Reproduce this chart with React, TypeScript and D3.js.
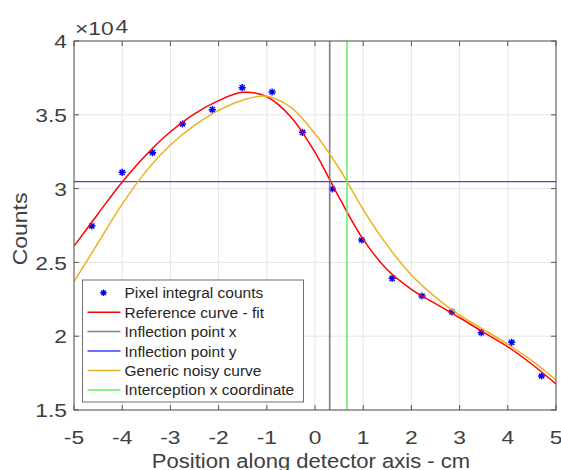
import React from "react";
import * as d3 from "d3";

const W = 561;
const H = 470;

const xTicks = [-5, -4, -3, -2, -1, 0, 1, 2, 3, 4, 5];
const xTickLabels = ["-5", "-4", "-3", "-2", "-1", "0", "1", "2", "3", "4", "5"];
const yTicks = [15000, 20000, 25000, 30000, 35000, 40000];
const yTickLabels = ["1.5", "2", "2.5", "3", "3.5", "4"];

const pointX = [-4.63, -4.0, -3.37, -2.75, -2.13, -1.51, -0.89, -0.26, 0.36, 0.97, 1.6, 2.22, 2.84, 3.45, 4.08, 4.7];
const pointY = [27466, 31104, 32432, 34377, 35346, 36836, 36545, 33814, 29973, 26518, 23923, 22724, 21640, 20237, 19587, 17304];

const fitX = [-5, -4.5, -4, -3.5, -3, -2.5, -2, -1.5, -1, -0.5, 0, 0.5, 1, 1.5, 2, 2.5, 3, 3.5, 4, 4.5, 5];
const fitY = [26100, 28300, 30450, 32300, 33850, 35070, 35960, 36520, 36220, 34850, 32450, 29400, 26560, 24500, 23180, 22200, 21250, 20260, 19280, 18100, 16762];

const noisyX = [-5, -4.5, -4, -3.5, -3, -2.5, -2, -1.5, -1, -0.5, 0, 0.5, 1, 1.5, 2, 2.5, 3, 3.5, 4, 4.5, 5];
const noisyY = [23700, 26330, 28950, 31200, 32950, 34280, 35300, 35990, 36260, 35500, 33720, 31380, 28580, 26150, 24150, 22650, 21420, 20450, 19450, 18340, 17030];

const inflectionX = 0.305;
const inflectionY = 30470;
const interceptX = 0.665;

const legendLabels = [
  "Pixel integral counts",
  "Reference curve - fit",
  "Inflection point x",
  "Inflection point y",
  "Generic noisy curve",
  "Interception x coordinate",
];
const legendColors = ["#0000ff", "#ff0000", "#808080", "#4040ff", "#EDB120", "#5ef05e"];

const FONT = "'Liberation Sans', Arial, Helvetica, sans-serif";
const TXT = "#404040";
const SX = 1.2;

function asterisk(r: number) {
  const d = r * 0.72;
  return `M${-r},0H${r}M0,${-r}V${r}M${-d},${-d}L${d},${d}M${-d},${d}L${d},${-d}`;
}

export default function App() {
  const left = 74, right = 556, top = 41, bottom = 410;
  const x = d3.scaleLinear().domain([-5, 5]).range([left, right]);
  const y = d3.scaleLinear().domain([15000, 40000]).range([bottom, top]);

  const fitLine = d3
    .line<number>()
    .x((_, i) => x(fitX[i]))
    .y((v) => y(v))
    .curve(d3.curveCatmullRom.alpha(0.5))(fitY) as string;
  const noisyLine = d3
    .line<number>()
    .x((_, i) => x(noisyX[i]))
    .y((v) => y(v))
    .curve(d3.curveCatmullRom.alpha(0.5))(noisyY) as string;

  const legX = 82.5, legY = 280, legW = 221, legH = 122;
  const rowY = (i: number) => 292.7 + i * 19.45;

  return (
    <svg
      width={W}
      height={H}
      style={{ position: "fixed", left: 0, top: 0, background: "#fff" }}
      fontFamily={FONT}
    >
      <rect x={0} y={0} width={W} height={H} fill="#fff" />
      <defs>
        <clipPath id="plotclip">
          <rect x={left} y={top} width={right - left} height={bottom - top} />
        </clipPath>
      </defs>
      {xTicks.map((t) => (
        <line key={"gx" + t} x1={x(t)} x2={x(t)} y1={top} y2={bottom} stroke="#e5e5e5" strokeWidth={1} />
      ))}
      {yTicks.map((t) => (
        <line key={"gy" + t} x1={left} x2={right} y1={y(t)} y2={y(t)} stroke="#e5e5e5" strokeWidth={1} />
      ))}
      <g clipPath="url(#plotclip)">
        {pointX.map((px, i) => (
          <path
            key={"p" + i}
            d={asterisk(3.6)}
            transform={`translate(${x(px)},${y(pointY[i])})`}
            stroke="#0000ff"
            strokeWidth={1.4}
            fill="none"
          />
        ))}
        <path d={fitLine} fill="none" stroke="#ff0000" strokeWidth={1.5} />
        <line x1={x(inflectionX)} x2={x(inflectionX)} y1={top} y2={bottom} stroke="#808080" strokeWidth={1.6} />
        <line x1={left} x2={right} y1={y(inflectionY)} y2={y(inflectionY)} stroke="#4040ff" strokeWidth={1.4} />
        <path d={noisyLine} fill="none" stroke="#EDB120" strokeWidth={1.5} />
        <line x1={x(interceptX)} x2={x(interceptX)} y1={top} y2={bottom} stroke="#5ef05e" strokeWidth={1.5} />
      </g>
      <rect x={left} y={top} width={right - left} height={bottom - top} fill="none" stroke="#555" strokeWidth={1} />
      {xTicks.map((t) => (
        <g key={"tx" + t}>
          <line x1={x(t)} x2={x(t)} y1={bottom} y2={bottom - 5} stroke="#555" />
          <line x1={x(t)} x2={x(t)} y1={top} y2={top + 5} stroke="#555" />
        </g>
      ))}
      {yTicks.map((t) => (
        <g key={"ty" + t}>
          <line x1={left} x2={left + 5} y1={y(t)} y2={y(t)} stroke="#555" />
          <line x1={right} x2={right - 5} y1={y(t)} y2={y(t)} stroke="#555" />
        </g>
      ))}
      {xTicks.map((t, i) => (
        <text
          key={"lx" + t}
          transform={`translate(${x(t)},444) scale(${SX},1)`}
          textAnchor="middle"
          fontSize={19}
          fill={TXT}
        >
          {xTickLabels[i]}
        </text>
      ))}
      {yTicks.map((t, i) => (
        <text
          key={"ly" + t}
          transform={`translate(67,${y(t) + 7.2}) scale(${SX},1)`}
          textAnchor="end"
          fontSize={19}
          fill={TXT}
        >
          {yTickLabels[i]}
        </text>
      ))}
      <text transform={`translate(75,35) scale(${SX},1)`} fontSize={19} fill={TXT}>
        ×10
      </text>
      <text transform={`translate(115.5,32.5) scale(${SX},1)`} fontSize={19} fill={TXT}>
        4
      </text>
      <text
        transform={`translate(${(left + right) / 2 - 4},468) scale(1.13,1)`}
        textAnchor="middle"
        fontSize={19.5}
        fill={TXT}
      >
        Position along detector axis - cm
      </text>
      <text
        transform={`translate(27,229) rotate(-90) scale(1.12,1)`}
        textAnchor="middle"
        fontSize={20.5}
        fill={TXT}
      >
        Counts
      </text>
      <rect x={legX} y={legY} width={legW} height={legH} fill="#fff" stroke="#707070" strokeWidth={1} />
      {legendLabels.map((lab, i) => (
        <g key={"leg" + i}>
          {i === 0 ? (
            <path
              d={asterisk(3.2)}
              transform={`translate(103.5,${rowY(i)})`}
              stroke={legendColors[i]}
              strokeWidth={1.4}
              fill="none"
            />
          ) : (
            <line x1={87.5} x2={120.5} y1={rowY(i)} y2={rowY(i)} stroke={legendColors[i]} strokeWidth={1.5} />
          )}
          <text x={124.5} y={rowY(i) + 5.5} fontSize={15.5} fill="#262626">
            {lab}
          </text>
        </g>
      ))}
    </svg>
  );
}
